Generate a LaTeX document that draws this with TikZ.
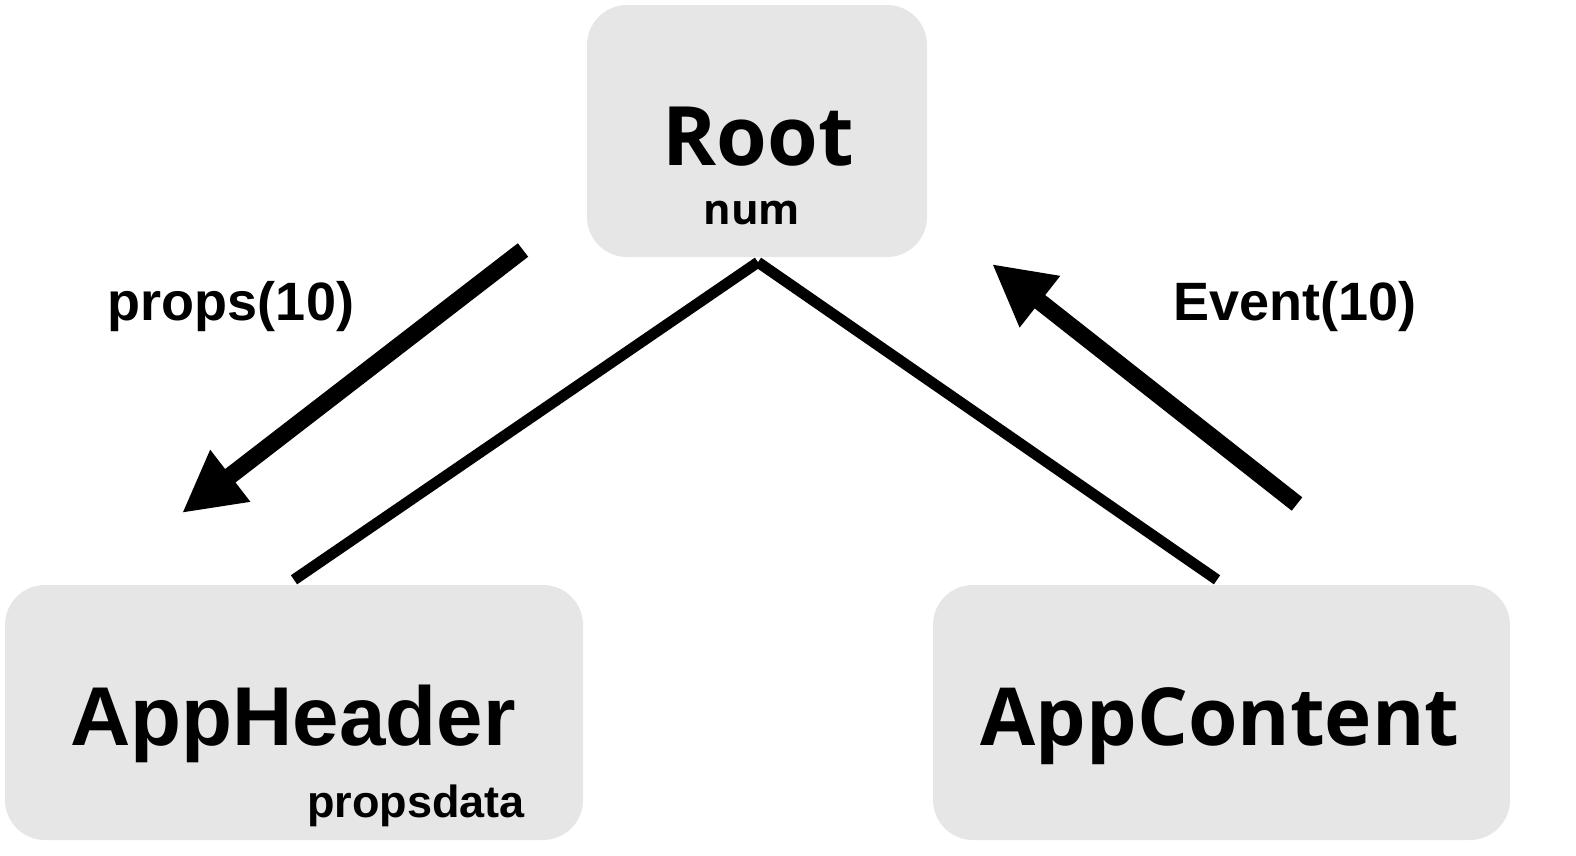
\documentclass[tikz,border=0pt]{standalone}
\usepackage{fontspec}
\setmainfont{Liberation Sans}
\newfontfamily\mlg{Open Sans}
\usetikzlibrary{arrows.meta,calc}
\definecolor{boxgray}{HTML}{E6E6E6}
\tikzset{
  compbox/.style={draw=none,fill=boxgray,rounded corners=40pt,inner sep=0pt},
  thinlink/.style={line width=11pt,line cap=butt},
  flowarrow/.style={line width=17pt,line cap=butt,-{Triangle[length=61pt,width=61pt]}},
  lbl/.style={inner sep=0pt,anchor=base},
}
\begin{document}
\begin{tikzpicture}[x=1pt,y=-1pt]
\useasboundingbox (0,0) rectangle (1576,855);
% boxes
\node[compbox,minimum width=340pt,minimum height=252pt] (root) at (757,131) {};
\node[compbox,minimum width=578pt,minimum height=255pt] (hdr) at (294,712.5) {};
\node[compbox,minimum width=577pt,minimum height=255pt] (cnt) at (1221.5,712.5) {};
% texts
\node[lbl,font=\mlg\bfseries\fontsize{82}{82}\selectfont] (rootT) at (758,165) {Root};
\node[lbl,font=\mlg\bfseries\fontsize{42}{42}\selectfont] (numT) at (752,224) {num};
\node[lbl,font=\bfseries\fontsize{83.5}{83.5}\selectfont] (hdrT) at (293,745) {AppHeader};
\node[lbl,font=\bfseries\fontsize{45}{45}\selectfont] (pdT) at (416,817) {propsdata};
\node[lbl,font=\mlg\bfseries\fontsize{80}{80}\selectfont] (cntT) at (1220,745) {AppContent};
\node[lbl,font=\bfseries\fontsize{54}{54}\selectfont] (propsT) at (231,320) {props(10)};
\node[lbl,font=\bfseries\fontsize{54}{54}\selectfont] (eventT) at (1295,320) {Event(10)};
% tree links
\coordinate (apex) at ($(root.south)+(1,5)$);
\draw[thinlink] (apex) -- ($(hdr.north)+(0,-5)$);
\draw[thinlink] (apex) -- ($(cnt.north)+(-4.5,-5)$);
% flow arrows
\coordinate (pS) at (523,250);
\coordinate (pE) at (182,513);
\coordinate (eS) at (1297,504);
\coordinate (eE) at (992,264);
\draw[flowarrow] (pS) -- (pE);
\draw[flowarrow] (eS) -- (eE);
\end{tikzpicture}
\end{document}
